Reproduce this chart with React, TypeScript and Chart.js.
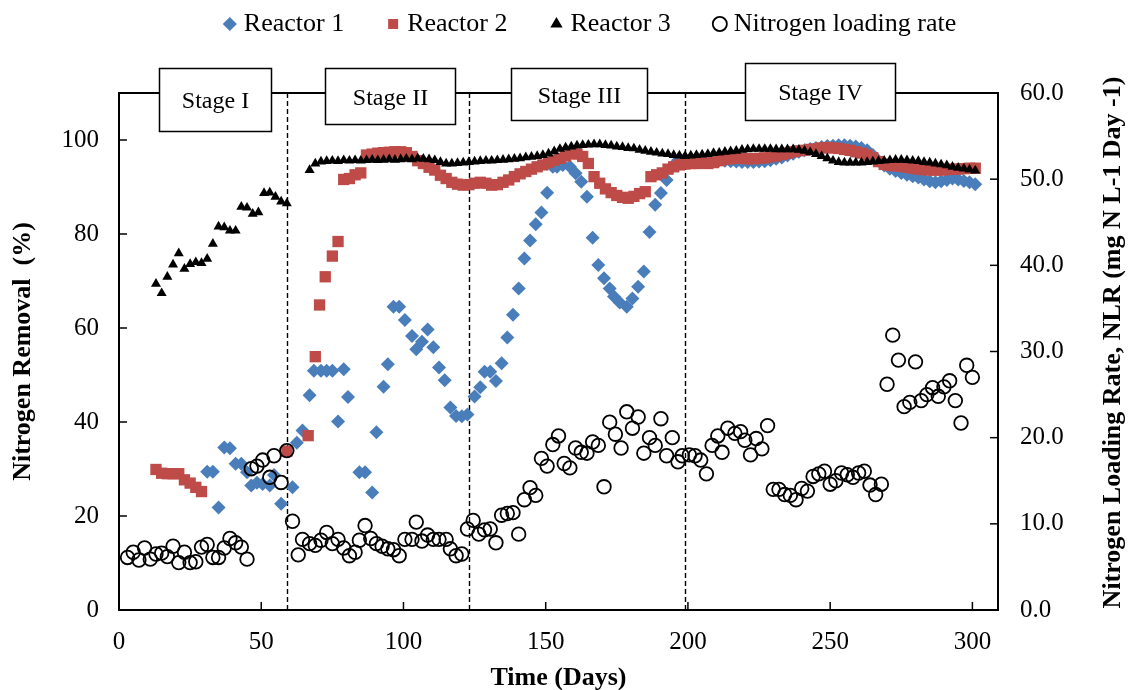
import React, { useEffect, useRef } from 'react';
import { Chart, registerables } from 'chart.js';

Chart.register(...registerables);

const SERIF = '"Liberation Serif", "Times New Roman", serif';

// ---------- data ----------
const r1Days = [
  31, 33, 35, 37, 39, 41, 43, 45, 46.5, 48.5, 50.5, 53, 54.5, 57,
  61, 62.5, 64.5, 67, 68.5, 71, 73, 75, 77, 79, 80.5,
  84.5, 86.5, 89, 90.5, 93, 94.5, 96.5, 98.5, 100.5,
  103, 104.5, 106.5, 108.5, 110.5, 112.5, 114.5, 116.5, 118.5, 120.5, 122.5,
  125, 127, 128.5, 130.5, 132.5, 134.5, 136.5, 138.5, 140.5, 142.5, 144.5, 146.5, 148.5, 150.5,
  152.5, 154, 156, 158.5, 160.5, 162.5, 164.5, 166.5, 168.5, 170.5, 172.5, 174, 176, 178.5,
  180.5, 182.5, 184.5, 186.5, 188.5, 190.5, 192.5, 194.5, 196.5,
  199, 201, 203, 205, 207, 209, 211, 213, 215, 217, 219, 221, 223, 225, 227, 229, 231, 233, 235, 237,
  239, 241, 243, 245, 247, 249, 251, 253, 255, 257, 259, 261, 263, 265, 267, 269, 271, 273, 275, 277,
  279, 281, 283, 285, 287, 289, 291, 293, 295, 297, 299, 301,
];
const r1Values = [
  29.4, 29.4, 21.8, 34.6, 34.4, 31.1, 31.1, 29.3, 26.5, 27.1, 26.8, 26.5, 28.7, 22.6,
  26.1, 35.6, 38.2, 45.7, 50.9, 50.9, 50.9, 50.9, 40.1, 51.2, 45.3,
  29.3, 29.3, 25.0, 37.8, 47.5, 52.3, 64.5, 64.5, 61.7,
  58.3, 55.5, 57.1, 59.7, 55.9, 51.6, 48.9, 43.1, 41.3, 41.2, 41.6,
  45.4, 47.4, 50.7, 50.7, 48.7, 52.5, 58.0, 62.8, 68.4, 74.8, 78.6, 82.1, 84.6, 88.8,
  94.3, 94.3, 94.7, 94.3, 92.9, 91.1, 87.9, 79.2, 73.4, 70.6, 68.4, 66.7, 65.4, 64.5,
  66.3, 68.8, 72.0, 80.4, 86.2, 88.7, 91.5, 94.3, 95.7,
  96.0, 96.0, 96.1, 96.0, 95.9, 95.8, 95.7, 95.6, 95.5, 95.4, 95.3, 95.3, 95.3, 95.4, 95.5, 95.7, 96.0, 96.3, 96.7, 97.1,
  97.5, 97.8, 98.1, 98.3, 98.5, 98.7, 98.8, 98.9, 98.9, 98.8, 98.6, 98.3, 97.8, 96.8, 95.6, 94.6, 93.9, 93.4, 93.0, 92.6,
  92.3, 92.0, 91.6, 91.2, 91.0, 91.2, 91.5, 91.8, 91.6, 91.3, 91.0, 90.6,
];

const r2Days = [
  13, 15, 17, 19, 21, 23, 25, 27, 29, 59, 66.5, 69, 70.5, 72.5, 75, 77,
  79, 81, 83, 85, 87, 89, 91, 93, 95, 97, 99, 101, 103, 105, 107, 109, 111, 113, 115, 117,
  119, 121, 123, 125, 127, 129, 131, 133, 135, 137, 139, 141, 143, 145, 147, 149, 151, 153, 155, 157,
  159, 161, 163, 165, 167, 169, 171, 173, 175, 177, 179, 181, 183, 185, 187, 189, 191, 193, 195, 197,
  199, 201, 203, 205, 207, 209, 211, 213, 215, 217, 219, 221, 223, 225, 227, 229, 231, 233, 235, 237,
  239, 241, 243, 245, 247, 249, 251, 253, 255, 257, 259, 261, 263, 265, 267, 269, 271, 273, 275, 277,
  279, 281, 283, 285, 287, 289, 291, 293, 295, 297, 299, 301,
];
const r2Values = [
  29.9, 29.1, 29.0, 29.0, 29.0, 27.7, 27.0, 26.1, 25.2, 33.8, 37.1, 53.9, 64.9, 70.9, 75.3, 78.4,
  91.6, 91.8, 92.6, 93.0, 96.8, 97.0, 97.2, 97.3, 97.4, 97.5, 97.5, 97.3, 96.5, 95.6, 95.0, 94.2, 93.6, 92.5, 91.8, 91.0,
  90.6, 90.4, 90.5, 90.8, 91.0, 90.8, 90.4, 90.5, 91.0, 91.5, 92.2, 92.8, 93.3, 93.8, 94.3, 94.7, 95.2, 95.7, 96.1, 96.6,
  97.2, 97.0, 96.5, 95.0, 92.2, 90.8, 89.6, 88.8, 88.2, 87.8, 87.6, 88.0, 88.6, 89.0, 92.2, 92.6, 93.0, 93.8, 94.3, 94.7,
  94.9, 95.0, 95.0, 95.1, 95.0, 95.2, 95.6, 95.9, 96.0, 96.1, 96.1, 96.0, 96.0, 96.1, 96.2, 96.4, 96.6, 96.9, 97.2, 97.5,
  97.7, 97.8, 98.0, 98.1, 98.3, 98.4, 98.3, 98.2, 98.0, 97.8, 97.5, 97.2, 96.8, 96.2, 95.4, 94.8, 94.6, 94.5, 94.4, 94.2,
  94.0, 93.8, 93.7, 93.6, 93.6, 93.6, 93.7, 93.8, 93.8, 93.9, 94.0, 94.0,
];

const r3Days = [
  13, 15, 17, 19, 21, 23, 25, 27, 29, 31, 33, 35, 37, 39, 41, 43, 45, 47, 49, 51, 53, 55, 57, 59,
  67, 69, 71, 73, 75, 77, 79, 81, 83, 85, 87, 89, 91, 93, 95, 97, 99,
  101, 103, 105, 107, 109, 111, 113, 115, 117, 119, 121, 123,
  125, 127, 129, 131, 133, 135, 137, 139, 141, 143, 145, 147,
  149, 151, 153, 155, 157, 159, 161, 163, 165,
  167, 169, 171, 173, 175, 177, 179, 181, 183, 185, 187, 189, 191, 193, 195, 197, 199,
  201, 203, 205, 207, 209, 211, 213, 215, 217, 219, 221, 223, 225, 227, 229, 231, 233, 235, 237,
  239, 241, 243, 245, 247, 249, 251,
  253, 255, 257, 259, 261, 263, 265, 267, 269, 271, 273, 275, 277, 279, 281, 283, 285, 287, 289,
  291, 293, 295, 297, 299, 301,
];
const r3Values = [
  69.4, 67.4, 70.9, 73.5, 75.9, 72.6, 73.6, 74.0, 73.8, 74.7, 77.9, 81.6, 81.4, 80.7, 80.7, 85.8,
  85.6, 84.3, 84.6, 88.7, 88.8, 87.9, 86.9, 86.5,
  93.6, 95.0, 95.4, 95.5, 95.6, 95.5, 95.7, 95.6, 95.7, 95.6, 95.7, 95.8, 95.7, 95.8, 95.9, 95.8, 95.9,
  96.0, 95.9, 96.1, 96.0, 95.9, 95.7, 95.3, 95.0, 95.0, 95.1, 95.2, 95.3,
  95.4, 95.5, 95.6, 95.6, 95.7, 95.8, 95.9, 96.0, 96.1, 96.3, 96.4, 96.6,
  96.8, 97.1, 97.6, 98.1, 98.4, 98.6, 98.8, 98.9, 99.0,
  99.1, 99.1, 98.9, 98.8, 98.6, 98.5, 98.3, 98.2, 97.9, 97.7, 97.5, 97.3, 97.1, 97.0, 96.8, 96.7, 96.6,
  96.7, 96.8, 96.9, 97.0, 97.2, 97.3, 97.5, 97.6, 97.7, 97.9, 98.0, 98.1, 98.1, 98.1, 98.1, 98.0, 98.0, 98.0, 98.0,
  97.9, 97.7, 97.4, 97.0, 96.6, 96.1, 95.6,
  95.3, 95.2, 95.2, 95.2, 95.2, 95.3, 95.4, 95.5, 95.6, 95.7, 95.8, 95.8, 95.7, 95.6, 95.5, 95.3, 95.2, 95.0, 94.8,
  94.6, 94.3, 94.1, 93.9, 93.7, 93.5,
];

const nlrDays = [
  3, 5, 7, 9, 11, 13, 15, 17, 19, 21, 23, 25, 27, 29, 31, 33, 35, 37, 39, 41, 43, 45,
  46.5, 48.5, 50.5, 53, 54.5, 57, 59,
  61, 63, 64.5, 67, 69, 71, 73, 75, 77, 79, 81, 83, 84.5, 86.5, 88.5, 90.5, 92.5, 94.5, 96.5, 98.5,
  100.5, 103, 104.5, 106.5, 108.5, 110.5, 112.5, 115, 116.5, 118.5, 120.5,
  122.5, 124.5, 126.5, 128.5, 130.5, 132.5, 134.5, 136.5, 138.5, 140.5, 142.5, 144.5, 146.5, 148.5,
  150.5, 152.5, 154.5, 156.5, 158.5, 160.5, 162.5, 164.5, 166.5, 168.5, 170.5, 172.5, 174.5, 176.5,
  178.5, 180.5, 182.5, 184.5, 186.5, 188.5, 190.5, 192.5, 194.5, 196.5, 198, 200.5, 202.5, 204.5,
  206.5, 208.5, 210.5, 212, 214, 216.5, 218.5, 220, 222, 224, 226, 228, 230, 232, 234, 236, 238, 240,
  242, 244, 246, 248, 250, 252, 254, 256, 258, 260, 262, 264, 266, 268, 270, 272, 274, 276, 278, 280,
  282, 284, 286, 288, 290, 292, 294, 296, 298, 300,
];
const nlrValues = [
  6.1, 6.7, 5.8, 7.2, 5.9, 6.5, 6.6, 6.2, 7.4, 5.5, 6.7, 5.5, 5.6, 7.3, 7.6, 6.1, 6.1, 7.2, 8.3, 7.8, 7.3, 5.9,
  16.4, 16.7, 17.4, 15.4, 17.9, 14.8, 18.5,
  10.3, 6.4, 8.2, 7.7, 7.5, 8.1, 9.0, 7.7, 8.2, 7.2, 6.3, 6.7, 8.1, 9.8, 8.3, 7.7, 7.4, 7.1, 7.0, 6.3,
  8.2, 8.2, 10.2, 8.0, 8.7, 8.2, 8.2, 8.2, 7.1, 6.3, 6.5,
  9.4, 10.4, 8.8, 9.3, 9.4, 7.8, 11.0, 11.2, 11.3, 8.8, 12.8, 14.2, 13.3, 17.6,
  16.7, 19.2, 20.2, 17.0, 16.5, 18.8, 18.3, 18.2, 19.5, 19.1, 14.3, 21.8, 20.4, 18.8,
  23.0, 21.1, 22.4, 18.2, 20.0, 19.1, 22.2, 17.9, 20.0, 17.2, 17.9, 18.0, 17.9, 17.4,
  15.8, 19.1, 20.2, 18.3, 21.1, 20.5, 20.7, 19.7, 18.0, 19.9, 18.7, 21.4, 14.0, 14.0, 13.4, 13.3, 12.8, 14.1,
  13.8, 15.5, 15.8, 16.1, 14.6, 15.0, 15.9, 15.7, 15.4, 15.9, 16.1, 14.5, 13.4, 14.6, 26.2, 31.9, 29.0, 23.6, 24.1, 28.8,
  24.3, 25.0, 25.8, 24.8, 25.9, 26.6, 24.3, 21.7, 28.4, 27.0,
];

const seriesNames = ['Reactor 1', 'Reactor 2', 'Reactor 3', 'Nitrogen loading rate'];
const stageBoundaryDays = [59, 123, 199];
const stageNames = ['Stage I', 'Stage II', 'Stage III', 'Stage IV'];
const xTickStep = 50;
const xTickMax = 300;
const leftTickStep = 20;
const leftTickMax = 100;
const rightTickStep = 10;

// ---------- layout / styling (not data) ----------
const STAGE_BOX_LAYOUT = [
  { from: 14.1, to: 53.5, top: 115.3, bottom: 101.9 },
  { from: 72.4, to: 118.1, top: 115.3, bottom: 103.4 },
  { from: 137.9, to: 185.7, top: 115.3, bottom: 104.3 },
  { from: 220.0, to: 272.9, top: 116.4, bottom: 104.3 },
];
const BLUE = '#4A7EBB';
const RED = '#BE4B48';
const LEGEND_HEIGHT = 93;
const LEGEND_PAD = 48;
const LEGEND_DX = 27;
const LEGEND_DY = -37;

const toPoints = (days: number[], vals: number[]) => days.map((d, i) => ({ x: d, y: vals[i] }));

const overlayPlugin = {
  id: 'overlay',
  beforeUpdate(chart: any) {
    const lg = chart.legend;
    if (lg && !lg.__patched) {
      const fit = lg.fit.bind(lg);
      lg.fit = function () {
        fit();
        this.height = LEGEND_HEIGHT;
      };
      lg.__patched = true;
    }
  },
  afterLayout(chart: any) {
    const lg = chart.legend;
    if (lg) {
      lg.left += LEGEND_DX;
      lg.right += LEGEND_DX;
      lg.top += LEGEND_DY;
      lg.bottom += LEGEND_DY;
    }
  },
  beforeDatasetsDraw(chart: any) {
    const { ctx, chartArea: a, scales } = chart;
    const x = scales.x;
    ctx.save();
    ctx.setLineDash([5, 3]);
    ctx.lineWidth = 1.4;
    ctx.strokeStyle = '#000';
    stageBoundaryDays.forEach((d) => {
      const px = Math.round(x.getPixelForValue(d)) + 0.5;
      ctx.beginPath();
      ctx.moveTo(px, a.top);
      ctx.lineTo(px, a.bottom);
      ctx.stroke();
    });
    ctx.restore();
  },
  afterDatasetsDraw(chart: any) {
    const { ctx, chartArea: a, scales } = chart;
    const { x, y, y1 } = scales;
    ctx.save();
    // frame
    ctx.strokeStyle = '#000';
    ctx.lineWidth = 2;
    ctx.strokeRect(a.left, a.top, a.right - a.left, a.bottom - a.top);
    // inward tick marks
    ctx.lineWidth = 1.5;
    const TL = 8;
    x.ticks.forEach((t: any) => {
      const px = x.getPixelForValue(t.value);
      if (px <= a.left + 1 || px >= a.right - 1) return;
      ctx.beginPath();
      ctx.moveTo(px, a.bottom);
      ctx.lineTo(px, a.bottom - TL);
      ctx.stroke();
    });
    y.ticks.forEach((t: any) => {
      const py = y.getPixelForValue(t.value);
      if (py >= a.bottom - 1 || py <= a.top + 1) return;
      ctx.beginPath();
      ctx.moveTo(a.left, py);
      ctx.lineTo(a.left + TL, py);
      ctx.stroke();
    });
    y1.ticks.forEach((t: any) => {
      const py = y1.getPixelForValue(t.value);
      if (py >= a.bottom - 1 || py <= a.top + 1) return;
      ctx.beginPath();
      ctx.moveTo(a.right, py);
      ctx.lineTo(a.right - TL, py);
      ctx.stroke();
    });
    // stage boxes
    ctx.lineWidth = 1.5;
    ctx.font = `24px ${SERIF}`;
    ctx.textAlign = 'center';
    ctx.textBaseline = 'middle';
    STAGE_BOX_LAYOUT.forEach((b, i) => {
      const x0 = Math.round(x.getPixelForValue(b.from)) + 0.5;
      const x1 = Math.round(x.getPixelForValue(b.to)) + 0.5;
      const y0 = Math.round(y.getPixelForValue(b.top)) + 0.5;
      const yb = Math.round(y.getPixelForValue(b.bottom)) + 0.5;
      ctx.fillStyle = '#fff';
      ctx.fillRect(x0, y0, x1 - x0, yb - y0);
      ctx.strokeStyle = '#000';
      ctx.strokeRect(x0, y0, x1 - x0, yb - y0);
      ctx.fillStyle = '#000';
      ctx.fillText(stageNames[i], (x0 + x1) / 2, (y0 + yb) / 2 + 2);
    });
    // right axis title (reads bottom to top)
    ctx.font = `bold 26px ${SERIF}`;
    ctx.translate(chart.width - 18, (a.top + a.bottom) / 2 - 9);
    ctx.rotate(-Math.PI / 2);
    ctx.fillText('Nitrogen Loading Rate, NLR (mg N L-1 Day -1)', 0, 0);
    ctx.restore();
  },
};

export default function App() {
  const ref = useRef<HTMLCanvasElement>(null);
  useEffect(() => {
    if (!ref.current) return;
    const tickFont = { family: SERIF, size: 25 };
    const chart = new Chart(ref.current, {
      type: 'scatter',
      data: {
        datasets: [
          {
            label: seriesNames[0],
            data: toPoints(r1Days, r1Values),
            pointStyle: 'rectRot',
            pointRadius: 7,
            backgroundColor: BLUE,
            borderColor: BLUE,
            borderWidth: 0,
            yAxisID: 'y',
            order: 4,
          },
          {
            label: seriesNames[1],
            data: toPoints(r2Days, r2Values),
            pointStyle: 'rect',
            pointRadius: 8,
            backgroundColor: RED,
            borderColor: RED,
            borderWidth: 0,
            yAxisID: 'y',
            order: 3,
          },
          {
            label: seriesNames[2],
            data: toPoints(r3Days, r3Values),
            pointStyle: 'triangle',
            pointRadius: 5.8,
            backgroundColor: '#000',
            borderColor: '#000',
            borderWidth: 0,
            yAxisID: 'y',
            order: 2,
          },
          {
            label: seriesNames[3],
            data: toPoints(nlrDays, nlrValues),
            pointStyle: 'circle',
            pointRadius: 6.8,
            backgroundColor: 'rgba(0,0,0,0)',
            borderColor: '#000',
            borderWidth: 1.8,
            yAxisID: 'y1',
            order: 1,
          },
        ],
      } as any,
      options: {
        animation: false,
        responsive: true,
        maintainAspectRatio: false,
        events: [],
        layout: { padding: 0 },
        plugins: {
          tooltip: { enabled: false },
          legend: {
            display: true,
            position: 'top',
            labels: {
              usePointStyle: true,
              boxWidth: 2,
              boxHeight: 10,
              padding: LEGEND_PAD,
              color: '#000',
              font: { family: SERIF, size: 26 },
              sort: (a: any, b: any) => a.datasetIndex - b.datasetIndex,
            },
          },
        },
        scales: {
          x: {
            type: 'linear',
            position: 'bottom',
            min: 0,
            max: 309,
            bounds: 'data',
            ticks: {
              stepSize: xTickStep,
              autoSkip: false,
              maxRotation: 0,
              color: '#000',
              font: tickFont,
              padding: 17,
            },
            afterBuildTicks: (s: any) => {
              s.ticks = s.ticks.filter((t: any) => t.value % xTickStep === 0 && t.value <= xTickMax);
            },
            grid: { display: false, drawTicks: false },
            border: { display: false },
            title: {
              display: true,
              text: 'Time (Days)',
              color: '#000',
              font: { family: SERIF, size: 26, weight: 'bold' },
              padding: { top: 0, bottom: -4 },
            },
            afterFit: (s: any) => {
              s.height = 80;
            },
          },
          y: {
            type: 'linear',
            position: 'left',
            min: 0,
            max: 110,
            bounds: 'data',
            ticks: {
              stepSize: leftTickStep,
              color: '#000',
              font: tickFont,
              padding: 20,
            },
            afterBuildTicks: (s: any) => {
              s.ticks = s.ticks.filter((t: any) => t.value % leftTickStep === 0 && t.value <= leftTickMax);
            },
            grid: { display: false, drawTicks: false },
            border: { display: false },
            title: {
              display: true,
              text: 'Nitrogen Removal  (%)',
              color: '#000',
              font: { family: SERIF, size: 26, weight: 'bold' },
              padding: { top: 8, bottom: 0 },
            },
            afterFit: (s: any) => {
              s.width = 119;
            },
          },
          y1: {
            type: 'linear',
            position: 'right',
            min: 0,
            max: 60,
            bounds: 'data',
            ticks: {
              stepSize: rightTickStep,
              color: '#000',
              font: tickFont,
              padding: 22,
              callback: (v: any) => Number(v).toFixed(1),
            },
            grid: { display: false, drawTicks: false, drawOnChartArea: false },
            border: { display: false },
            afterFit: (s: any) => {
              s.width = 133;
            },
          },
        },
      } as any,
      plugins: [overlayPlugin as any],
    });
    return () => chart.destroy();
  }, []);
  return (
    <div style={{ position: 'fixed', left: 0, top: 0, width: 1131, height: 690, background: '#fff' }}>
      <canvas ref={ref} />
    </div>
  );
}
